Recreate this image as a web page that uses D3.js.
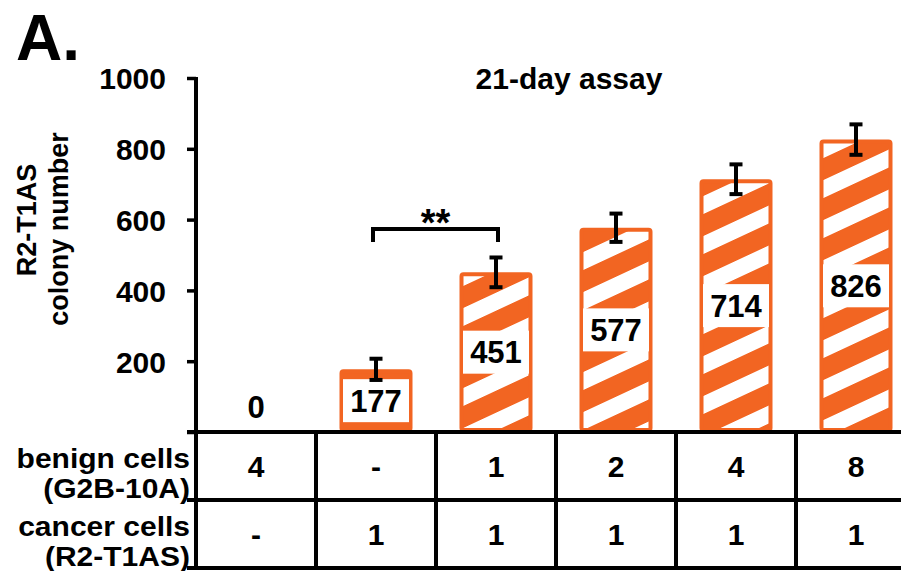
<!DOCTYPE html>
<html><head><meta charset="utf-8">
<script src="https://cdn.jsdelivr.net/npm/d3@7"></script>
<style>
html,body{margin:0;padding:0;background:#fff;}
text{font-family:"Liberation Sans",Arial,Helvetica,sans-serif;font-weight:bold;fill:#000;}
</style></head>
<body>
<svg id="chart" width="901" height="571"></svg>
<script>
// ---- data ----
const categories = ["G4", "C1", "G1C1", "G2C1", "G4C1", "G8C1"];
const values = [0, 177, 451, 577, 714, 826];
const errors = [0, 30, 42, 40, 42, 43];
const benignRow = ["4", "-", "1", "2", "4", "8"];
const cancerRow = ["-", "1", "1", "1", "1", "1"];
const yTicks = [0, 200, 400, 600, 800, 1000];
const rowLabels = [["benign cells", "(G2B-10A)"], ["cancer cells", "(R2-T1AS)"]];
const sigPair = ["C1", "G1C1"];

const orange = "#F26522";
const svg = d3.select("#chart");

const x = d3.scaleBand().domain(categories).range([196, 916]).padding(0);
const y = d3.scaleLinear().domain([0, 1000]).range([432, 78]);
const barW = 73;

// pattern
const defs = svg.append("defs");
const pat = defs.append("pattern").attr("id", "stripes")
  .attr("patternUnits", "userSpaceOnUse")
  .attr("width", 40).attr("height", 40)
  .attr("patternTransform", "skewY(-25)");
pat.append("rect").attr("width", 40).attr("height", 40).attr("fill", orange);
pat.append("rect").attr("y", 4).attr("width", 40).attr("height", 18).attr("fill", "#fff");

// "A."
svg.append("text").attr("x", 16).attr("y", 60).style("font-size", "64px").text("A.");

// title
svg.append("text").attr("x", 569).attr("y", 89).attr("text-anchor", "middle")
  .style("font-size", "30px").text("21-day assay");

// y label
const yl = svg.append("text").attr("transform", "rotate(-90)").attr("text-anchor", "middle")
  .style("font-size", "27px");
yl.append("tspan").attr("x", -220).attr("y", 36).text("R2-T1AS");
yl.append("tspan").attr("x", -229).attr("y", 68).text("colony number");

// bars
const bars = svg.append("g");
categories.forEach((c, i) => {
  const v = values[i];
  const cx = x(c) + x.bandwidth() / 2;
  if (v > 0) {
    bars.append("rect")
      .attr("x", cx - barW / 2 + 2).attr("y", y(v) + 2)
      .attr("width", barW - 4).attr("height", y(0) - y(v) - 4)
      .attr("rx", 2)
      .attr("fill", v > 300 ? "url(#stripes)" : orange)
      .attr("stroke", orange).attr("stroke-width", 4);
    const my = y(v / 2);
    bars.append("rect").attr("x", cx - 33).attr("y", my - 21.5)
      .attr("width", 66).attr("height", 43).attr("fill", "#fff");
    bars.append("text").attr("x", cx).attr("y", my + 11).attr("text-anchor", "middle")
      .style("font-size", "31px").text(v);
    // error bar
    const e = errors[i];
    const g = bars.append("g").attr("stroke", "#000").attr("stroke-width", 4);
    g.append("line").attr("x1", cx).attr("x2", cx).attr("y1", y(v + e)).attr("y2", y(v - e));
    g.append("line").attr("x1", cx - 6.5).attr("x2", cx + 6.5).attr("y1", y(v + e)).attr("y2", y(v + e));
    g.append("line").attr("x1", cx - 6.5).attr("x2", cx + 6.5).attr("y1", y(v - e)).attr("y2", y(v - e));
  } else {
    bars.append("text").attr("x", cx).attr("y", y(0) - 14).attr("text-anchor", "middle")
      .style("font-size", "31px").text(v);
  }
});

// significance bracket
const x1 = x(sigPair[0]) + x.bandwidth() / 2 - 3, x2 = x(sigPair[1]) + x.bandwidth() / 2 + 2;
svg.append("path").attr("d", `M${x1},242 V229 H${x2} V242`)
  .attr("fill", "none").attr("stroke", "#000").attr("stroke-width", 4);
svg.append("text").attr("x", (x1 + x2) / 2).attr("y", 236).attr("text-anchor", "middle")
  .style("font-size", "38px").text("**");

// y axis
const yAxis = svg.append("g").attr("transform", "translate(196,0)")
  .call(d3.axisLeft(y).tickValues(yTicks).tickSize(9).tickPadding(21)
    .tickFormat(d => d === 0 ? "" : d));
yAxis.select(".domain").remove();
yAxis.selectAll(".tick line").attr("stroke", "#000").attr("stroke-width", 3.5);
yAxis.selectAll(".tick text").style("font-size", "30px").attr("dy", "0.36em");

// table lines
const tbl = svg.append("g").attr("stroke", "#000").attr("stroke-width", 4);
tbl.append("line").attr("x1", 196).attr("x2", 196).attr("y1", y(1000) - 1).attr("y2", 570);
[432, 500, 568].forEach(yy => tbl.append("line").attr("x1", 187).attr("x2", 901).attr("y1", yy).attr("y2", yy));
categories.slice(1).forEach(c => tbl.append("line").attr("x1", x(c)).attr("x2", x(c)).attr("y1", 432).attr("y2", 570));

// table text
[benignRow, cancerRow].forEach((row, r) => {
  row.forEach((t, i) => {
    svg.append("text").attr("x", x(categories[i]) + x.bandwidth() / 2).attr("y", 477 + r * 68)
      .attr("text-anchor", "middle").style("font-size", "30px").text(t);
  });
  [0, 1].forEach(k => {
    const t = svg.append("text").attr("x", 190).attr("y", 468 + k * 30 + r * 68)
      .attr("text-anchor", "end").style("font-size", "27px").text(rowLabels[r][k]);
    const w = t.node().getComputedTextLength();
    t.attr("textLength", w * 30 / 27).attr("lengthAdjust", "spacingAndGlyphs");
  });
});
</script>
</body></html>
